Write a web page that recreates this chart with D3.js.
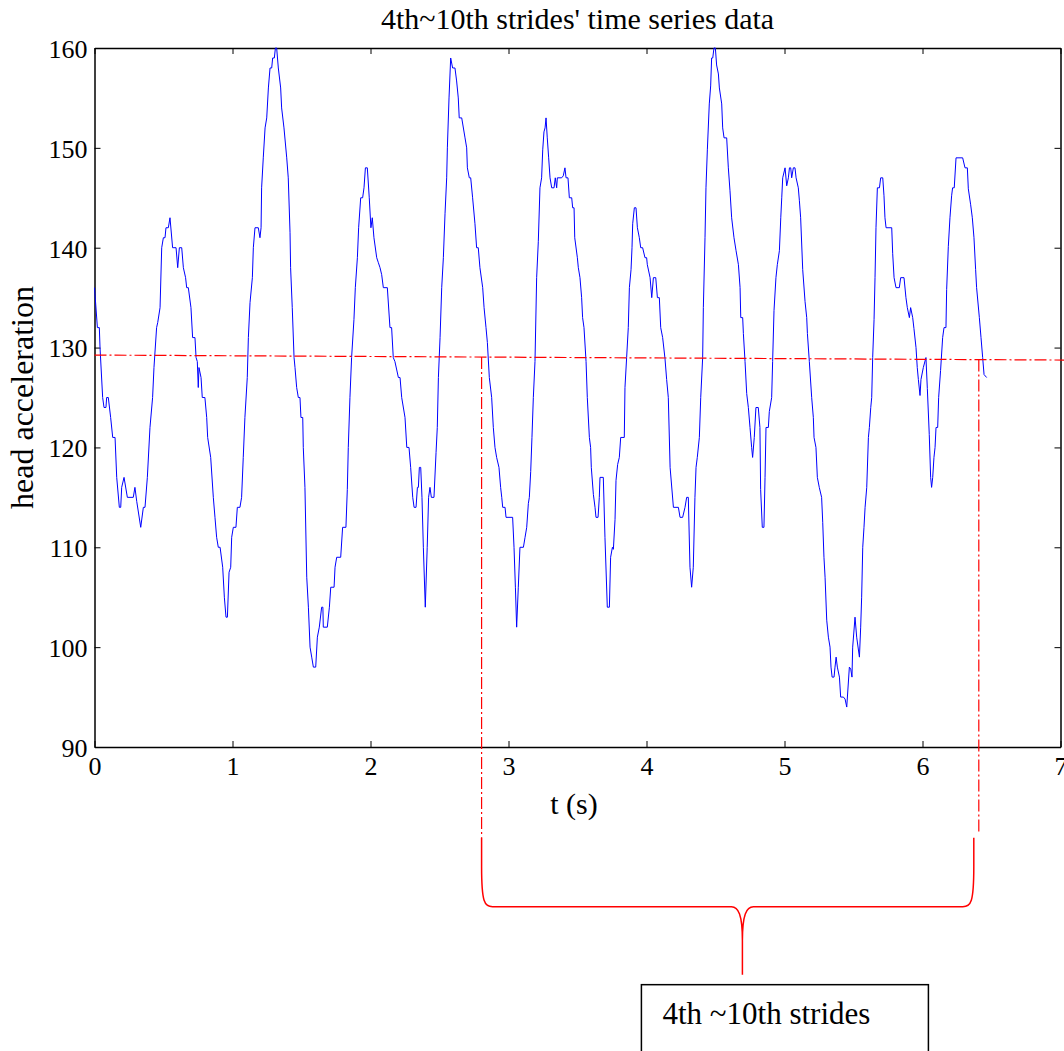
<!DOCTYPE html>
<html>
<head>
<meta charset="utf-8">
<script src="https://cdn.jsdelivr.net/npm/d3@7"></script>
<style>
  html, body { margin: 0; padding: 0; background: #fff; }
  svg { display: block; }
</style>
</head>
<body>
<svg id="chart"></svg>
<script>
// head acceleration samples [t (s), value]
const trace = [
  [0,136],[0.021,132],[0.035,132],[0.04,130],[0.059,125],[0.069,124],[0.083,124],[0.088,125],[0.1,125],[0.117,123],
  [0.132,121],[0.149,121],[0.161,117],[0.18,114],[0.19,114],[0.197,116],[0.214,117],[0.238,115],[0.281,115],[0.293,116],
  [0.306,114.6],[0.335,112],[0.354,114],[0.366,114],[0.383,117],[0.402,122],[0.421,125],[0.431,128],[0.45,132],[0.458,132.5],
  [0.475,134],[0.487,140],[0.499,141],[0.511,141],[0.518,142],[0.535,142],[0.547,143],[0.566,140],[0.591,140],[0.603,138],
  [0.615,140],[0.632,140],[0.644,138],[0.66,137],[0.668,136],[0.68,136],[0.699,134],[0.711,131],[0.728,131],[0.736,129],
  [0.745,128.6],[0.752,126],[0.757,128],[0.772,127],[0.781,125],[0.8,125],[0.813,123],[0.82,121],[0.842,119],[0.861,115],
  [0.873,113],[0.885,111],[0.897,110],[0.91,110],[0.929,108],[0.941,105],[0.953,103],[0.963,103],[0.975,107.5],[0.987,108],
  [0.994,111],[1.006,112],[1.025,112],[1.035,114],[1.054,114],[1.066,115],[1.078,119],[1.09,123],[1.107,127],[1.115,131],
  [1.127,134.5],[1.144,137],[1.151,140],[1.163,142],[1.187,142],[1.199,141],[1.207,142],[1.211,146],[1.223,149],[1.236,152],
  [1.248,153],[1.26,156],[1.272,158],[1.284,158],[1.291,159],[1.303,159],[1.311,160],[1.32,160],[1.332,158],[1.349,156],
  [1.356,154],[1.373,152],[1.393,149],[1.404,147],[1.417,141.5],[1.421,138],[1.433,134],[1.446,129],[1.453,128],[1.465,126],
  [1.477,125],[1.489,125],[1.496,123],[1.509,123],[1.513,120],[1.525,116],[1.538,107],[1.55,104],[1.562,100],[1.574,99],
  [1.586,98],[1.603,98],[1.615,101],[1.629,102],[1.646,104],[1.655,104],[1.658,102],[1.687,102],[1.702,104],[1.712,106],
  [1.736,106],[1.743,108],[1.755,109],[1.784,109],[1.798,112],[1.822,112],[1.832,115.8],[1.839,120],[1.851,125],[1.863,129],
  [1.88,132.8],[1.89,136],[1.905,139],[1.914,142],[1.929,145],[1.943,145],[1.953,146],[1.963,148],[1.977,148],[1.991,145],
  [2.003,142],[2.013,143],[2.025,141],[2.045,139],[2.057,138.5],[2.069,138],[2.081,137.3],[2.093,136],[2.122,136],[2.141,132],
  [2.153,132],[2.165,129],[2.177,128.6],[2.202,127],[2.214,127],[2.226,125],[2.25,123],[2.263,120],[2.279,120],[2.291,118],
  [2.306,115],[2.316,114],[2.33,114],[2.34,116],[2.347,116],[2.354,118],[2.364,118],[2.373,115],[2.383,110],[2.397,104],
  [2.411,110],[2.421,115],[2.431,116],[2.441,115],[2.46,115],[2.475,119.5],[2.484,122],[2.492,127],[2.504,131],[2.516,136],
  [2.528,139],[2.54,143.4],[2.552,147],[2.557,150],[2.569,155],[2.581,159],[2.595,158],[2.612,158],[2.624,156.7],[2.636,155],
  [2.643,153],[2.661,153],[2.685,151],[2.697,150],[2.702,148],[2.716,147],[2.726,147],[2.74,145],[2.757,142.4],[2.769,140],
  [2.781,140],[2.793,138],[2.813,136],[2.823,134],[2.837,132],[2.847,130.5],[2.861,127],[2.878,125],[2.89,122],[2.902,120],
  [2.914,119],[2.931,118],[2.943,116],[2.951,115],[2.958,114],[2.975,114],[2.982,113],[3.03,113],[3.04,110],[3.05,106],
  [3.059,102],[3.071,106],[3.083,110],[3.108,110],[3.12,111],[3.132,112],[3.144,114.4],[3.151,115],[3.161,117.6],[3.17,121],
  [3.18,125],[3.192,128.6],[3.204,137],[3.216,140.6],[3.228,146],[3.24,147],[3.248,149.8],[3.257,151.6],[3.265,152],[3.272,153],
  [3.281,151],[3.291,149],[3.301,147],[3.313,146],[3.33,146],[3.339,147],[3.349,146],[3.354,147],[3.385,147],[3.397,147.2],
  [3.409,148],[3.417,147],[3.431,147],[3.441,145],[3.458,145],[3.465,144],[3.475,144],[3.48,141],[3.499,139],[3.506,138],
  [3.518,137],[3.53,135],[3.537,133],[3.547,132],[3.562,128.6],[3.571,125],[3.586,121],[3.595,120],[3.6,118],[3.615,115.3],
  [3.627,114],[3.634,113],[3.649,113],[3.658,115],[3.663,117],[3.687,117],[3.699,111],[3.716,104],[3.731,104],[3.74,109],
  [3.753,110],[3.76,109.8],[3.772,112.8],[3.779,116.7],[3.791,118.3],[3.803,119],[3.813,121],[3.839,121],[3.844,126],[3.856,129],
  [3.868,132],[3.876,136],[3.888,137.8],[3.895,140],[3.9,142.4],[3.912,144],[3.924,144],[3.934,142],[3.948,141],[3.958,140],
  [3.972,140],[3.989,139],[4.001,139],[4.006,138.3],[4.026,137],[4.038,135],[4.05,137],[4.067,137],[4.079,135],[4.093,135],
  [4.103,132],[4.117,131],[4.134,128.9],[4.146,126.8],[4.158,125],[4.171,118],[4.195,114],[4.231,114],[4.243,113],[4.262,113],
  [4.279,114],[4.291,115],[4.303,115],[4.315,108],[4.327,106],[4.339,108],[4.351,115],[4.359,118],[4.368,119],[4.383,121],
  [4.393,125],[4.407,129],[4.412,134],[4.424,141],[4.431,146],[4.441,149.8],[4.455,154.4],[4.465,156.2],[4.472,159],[4.48,159],
  [4.489,160],[4.499,160],[4.508,158.3],[4.521,157.4],[4.528,156],[4.545,154.4],[4.552,152],[4.562,151],[4.581,151],[4.593,148],
  [4.605,145.7],[4.617,143],[4.634,141],[4.649,139.7],[4.666,138.3],[4.678,136],[4.683,133],[4.697,133],[4.702,131.4],[4.714,128.6],
  [4.726,125.4],[4.738,124],[4.75,122],[4.762,120],[4.769,119],[4.781,121],[4.793,124],[4.81,124],[4.822,122],[4.827,115.8],
  [4.839,112],[4.851,112],[4.859,117],[4.866,122],[4.883,122],[4.89,123.6],[4.907,125],[4.914,128.6],[4.924,133.7],[4.938,137],
  [4.948,138.3],[4.963,139.7],[4.973,143],[4.98,145],[4.987,147],[5.004,148],[5.016,146.2],[5.028,147],[5.036,148],[5.045,148],
  [5.052,147],[5.064,148],[5.076,148],[5.084,147],[5.1,146],[5.108,144.7],[5.117,143],[5.132,137.8],[5.149,134.6],[5.161,133],
  [5.166,131.4],[5.18,128.6],[5.197,125],[5.209,123],[5.214,121],[5.228,120],[5.238,117],[5.252,116],[5.269,115],[5.277,112.5],
  [5.286,109],[5.294,107],[5.306,102.7],[5.318,101],[5.33,100],[5.337,98],[5.345,97],[5.359,97],[5.366,98],[5.374,99],
  [5.383,98],[5.398,97],[5.407,95],[5.427,95],[5.439,94.8],[5.451,94],[5.47,98],[5.48,97.8],[5.489,97],[5.494,100],
  [5.511,103],[5.523,101],[5.543,99],[5.552,102],[5.559,105],[5.567,110],[5.576,112],[5.584,114],[5.596,116],[5.608,121],
  [5.615,122],[5.625,124],[5.632,125],[5.639,129],[5.649,132.8],[5.656,137],[5.663,142],[5.673,146],[5.688,146],[5.697,147],
  [5.712,147],[5.721,145.2],[5.728,143],[5.736,142],[5.777,142],[5.784,139.4],[5.794,137],[5.808,136],[5.832,136],[5.842,137],
  [5.866,137],[5.88,135],[5.89,134],[5.905,133],[5.914,134],[5.929,133],[5.938,131.9],[5.953,130],[5.962,128],[5.97,126.8],
  [5.982,125.2],[5.989,126.8],[6.006,128],[6.025,129],[6.035,125.9],[6.049,121.3],[6.059,117],[6.066,116],[6.074,117],[6.083,119],
  [6.091,120],[6.098,122],[6.11,122],[6.117,125],[6.131,127.7],[6.146,131],[6.156,132],[6.17,132],[6.175,135.8],[6.187,140.1],
  [6.199,143],[6.211,145.2],[6.218,146],[6.23,146],[6.243,149],[6.291,149],[6.308,148],[6.325,148],[6.332,145.9],[6.349,144.3],
  [6.361,143],[6.373,141],[6.385,137.8],[6.392,136],[6.412,133],[6.424,131],[6.436,129],[6.446,127.3],[6.465,127]
];

const xTicks = [0, 1, 2, 3, 4, 5, 6, 7];
const yTicks = [90, 100, 110, 120, 130, 140, 150, 160];

// red annotation: threshold line (t, value) and the stride window in seconds
const thresholdT = [0, 7.03];
const thresholdV = [129.25, 128.75];
const strideWindow = [2.805, 6.408];
const braceLevels = [80.9, 74.0, 67.2]; // arm top, bar, tip (value units, below axis)
const braceTipT = 4.695;

const titleText = "4th~10th strides' time series data";
const xLabel = 't (s)';
const yLabel = 'head acceleration';
const noteText = '4th ~10th strides';

const width = 1064, height = 1051;
const margin = { top: 48, right: 3.5, bottom: 304, left: 94.5 };
const FONT = '"Liberation Serif", "Times New Roman", Times, serif';

const svg = d3.select('#chart')
  .attr('width', width)
  .attr('height', height)
  .attr('viewBox', `0 0 ${width} ${height}`);

const x = d3.scaleLinear().domain([0, 7]).range([margin.left, width - margin.right]);
const y = d3.scaleLinear().domain([90, 160]).range([height - margin.bottom, margin.top]);

const g = svg.append('g');

// Axes (MATLAB style box, ticks inward on all sides)
function styleAxis(sel) {
  sel.select('.domain').attr('stroke', '#000').attr('stroke-width', 1.5);
  sel.selectAll('.tick line').attr('stroke', '#000').attr('stroke-width', 1);
  sel.selectAll('text')
    .attr('font-family', FONT)
    .attr('font-size', 26)
    .attr('fill', '#000');
}

g.append('g')
  .attr('transform', `translate(0,${y(90)})`)
  .call(d3.axisBottom(x).tickValues(xTicks).tickSizeInner(-6).tickSizeOuter(0).tickPadding(10).tickFormat(d3.format('d')))
  .call(styleAxis);

g.append('g')
  .attr('transform', `translate(0,${y(160)})`)
  .call(d3.axisTop(x).tickValues(xTicks).tickSizeInner(-6).tickSizeOuter(0).tickFormat(''))
  .call(styleAxis);

g.append('g')
  .attr('transform', `translate(${x(0)},0)`)
  .call(d3.axisLeft(y).tickValues(yTicks).tickSizeInner(-6).tickSizeOuter(0).tickPadding(7).tickFormat(d3.format('d')))
  .call(styleAxis)
  .selectAll('text').attr('dy', '0.36em');

g.append('g')
  .attr('transform', `translate(${x(7)},0)`)
  .call(d3.axisRight(y).tickValues(yTicks).tickSizeInner(-6).tickSizeOuter(0).tickFormat(''))
  .call(styleAxis);

// Data line
const line = d3.line().x(d => x(d[0])).y(d => y(d[1]));
g.append('path')
  .datum(trace)
  .attr('fill', 'none')
  .attr('stroke', '#0000ff')
  .attr('stroke-width', 1)
  .attr('d', line);

// Titles
svg.append('text')
  .attr('x', (x(0) + x(7)) / 2)
  .attr('y', 29)
  .attr('text-anchor', 'middle')
  .attr('font-family', FONT)
  .attr('font-size', 30)
  .text(titleText);

svg.append('text')
  .attr('x', 574)
  .attr('y', 814)
  .attr('text-anchor', 'middle')
  .attr('font-family', FONT)
  .attr('font-size', 30)
  .text(xLabel);

svg.append('text')
  .attr('transform', `translate(33,${(y(90) + y(160)) / 2}) rotate(-90)`)
  .attr('text-anchor', 'middle')
  .attr('font-family', FONT)
  .attr('font-size', 32)
  .text(yLabel);

// Red annotations
const red = '#ff0000';
const dashDot = '12,3,2,3';
const thrAt = t => thresholdV[0] + (thresholdV[1] - thresholdV[0]) * (t - thresholdT[0]) / (thresholdT[1] - thresholdT[0]);

svg.append('line')
  .attr('x1', x(thresholdT[0])).attr('y1', y(thresholdV[0]))
  .attr('x2', x(thresholdT[1])).attr('y2', y(thresholdV[1]))
  .attr('stroke', red).attr('stroke-width', 1.2)
  .attr('stroke-dasharray', dashDot);

const armTop = y(braceLevels[0]);
const bar = y(braceLevels[1]);
const tip = y(braceLevels[2]);

svg.append('line')
  .attr('x1', x(strideWindow[0])).attr('y1', y(thrAt(strideWindow[0])))
  .attr('x2', x(strideWindow[0])).attr('y2', armTop)
  .attr('stroke', red).attr('stroke-width', 1.2)
  .attr('stroke-dasharray', dashDot);

svg.append('line')
  .attr('x1', x(strideWindow[1])).attr('y1', y(thrAt(strideWindow[1])))
  .attr('x2', x(strideWindow[1])).attr('y2', armTop - 6)
  .attr('stroke', red).attr('stroke-width', 1.2)
  .attr('stroke-dasharray', dashDot);

// curly brace under the stride window
const bl = x(strideWindow[0]), br = x(strideWindow[1]) - 5, bm = x(braceTipT);
const brace = d3.path();
brace.moveTo(bl, armTop);
brace.lineTo(bl, bar - 40);
brace.bezierCurveTo(bl, bar - 4, bl + 3, bar, bl + 11, bar);
brace.lineTo(bm - 11, bar);
brace.bezierCurveTo(bm - 4, bar, bm, bar + 8, bm, bar + 34);
brace.lineTo(bm, tip);
brace.moveTo(bm, bar + 34);
brace.bezierCurveTo(bm, bar + 8, bm + 4, bar, bm + 11, bar);
brace.lineTo(br - 11, bar);
brace.bezierCurveTo(br - 3, bar, br, bar - 4, br, bar - 40);
brace.lineTo(br, armTop);

svg.append('path')
  .attr('d', brace.toString())
  .attr('fill', 'none')
  .attr('stroke', red)
  .attr('stroke-width', 1.5);

// Note box
const boxX = bm - 101, boxY = tip + 10;
svg.append('rect')
  .attr('x', boxX).attr('y', boxY)
  .attr('width', 287).attr('height', 120)
  .attr('fill', '#fff')
  .attr('stroke', '#000')
  .attr('stroke-width', 1.5);

svg.append('text')
  .attr('x', boxX + 21)
  .attr('y', boxY + 39)
  .attr('font-family', FONT)
  .attr('font-size', 31)
  .text(noteText);
</script>
</body>
</html>
